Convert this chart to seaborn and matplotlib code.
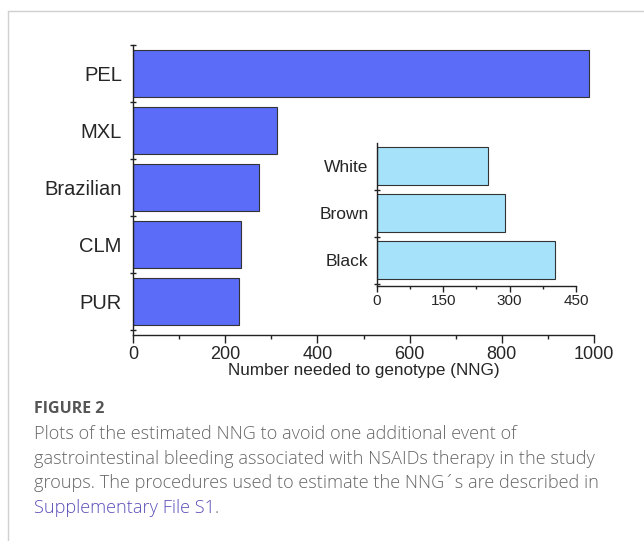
import numpy as np
import pandas as pd
import seaborn as sns
import matplotlib.pyplot as plt
from matplotlib.lines import Line2D
from matplotlib.ticker import FixedLocator

# main panel: NNG per population
groups = ['PEL', 'MXL', 'Brazilian', 'CLM', 'PUR']
nng = [988, 312, 273, 234, 230]

# inset: NNG per self-reported colour (Brazilian cohort)
colour_groups = ['White', 'Brown', 'Black']
colour_nng = [250, 289, 402]

sns.set_theme(style='white')
plt.rcParams['font.family'] = ['Liberation Sans', 'DejaVu Sans']

main_df = pd.DataFrame({'group': groups, 'nng': nng})
inset_df = pd.DataFrame({'group': colour_groups, 'nng': colour_nng})

fig = plt.figure(figsize=(6.44, 5.41), dpi=100)

# main axes
ax = fig.add_axes([0.2065, 0.3808, 0.716, 0.536])
sns.barplot(data=main_df, x='nng', y='group', orient='h', color='#5a6cf8',
            saturation=1, width=0.82, edgecolor='#333333', linewidth=0.8, ax=ax)
ax.set_xlim(0, 1000)
ax.set_ylim(4.59, -0.5)
ax.set_xticks([0, 200, 400, 600, 800, 1000])
ax.xaxis.set_minor_locator(FixedLocator([100, 300, 500, 700, 900]))
ax.yaxis.set_minor_locator(FixedLocator(np.arange(-0.5, 5, 1.0)))
ax.tick_params(axis='x', which='major', direction='out', length=6, width=1,
               color='#222222', labelsize=13, pad=2, bottom=True)
ax.tick_params(axis='x', which='minor', direction='out', length=3, width=1,
               color='#222222', bottom=True)
ax.tick_params(axis='y', which='major', length=0, labelsize=14.5, pad=8)
ax.tick_params(axis='y', which='minor', direction='inout', length=5, width=1,
               color='#222222', left=True)
ax.set_xlabel('Number needed to genotype (NNG)', fontsize=12.3, labelpad=0)
ax.set_ylabel('')
for side in ['top', 'right']:
    ax.spines[side].set_visible(False)
for side in ['left', 'bottom']:
    ax.spines[side].set_color('#222222')
    ax.spines[side].set_linewidth(1)

# inset axes
ins = fig.add_axes([0.5854, 0.4713, 0.309, 0.2644])
sns.barplot(data=inset_df, x='nng', y='group', orient='h', color='#a6e3fb',
            saturation=1, width=0.8, edgecolor='#333333', linewidth=0.8, ax=ins)
ins.set_xlim(0, 450)
ins.set_ylim(2.55, -0.49)
ins.set_xticks([0, 150, 300, 450])
ins.xaxis.set_minor_locator(FixedLocator([75, 225, 375]))
ins.yaxis.set_minor_locator(FixedLocator(np.arange(-0.5, 3, 1.0)))
ins.tick_params(axis='x', which='major', direction='out', length=4, width=1,
                color='#222222', labelsize=11, pad=2, bottom=True)
ins.tick_params(axis='x', which='minor', direction='out', length=2, width=1,
                color='#222222', bottom=True)
ins.tick_params(axis='y', which='major', length=0, labelsize=12.5, pad=6)
ins.tick_params(axis='y', which='minor', direction='inout', length=4, width=1,
                color='#222222', left=True)
ins.set_xlabel('')
ins.set_ylabel('')
ins.patch.set_alpha(0)
for side in ['top', 'right']:
    ins.spines[side].set_visible(False)
for side in ['left', 'bottom']:
    ins.spines[side].set_color('#222222')
    ins.spines[side].set_linewidth(1)

# card border
fig.add_artist(Line2D([8 / 644, 1], [1 - 11 / 541, 1 - 11 / 541],
                      transform=fig.transFigure, color='#d0d0d0', lw=1))
fig.add_artist(Line2D([8 / 644, 8 / 644], [0, 1 - 11 / 541],
                      transform=fig.transFigure, color='#d0d0d0', lw=1))

# caption
cap_font = ['Open Sans', 'DejaVu Sans']
x0 = 34 / 644
fig.text(x0, 1 - 409 / 541, 'FIGURE 2', fontsize=11.5, fontweight='bold',
         color='#555555', va='center', family=cap_font)
lines = [
    'Plots of the estimated NNG to avoid one additional event of',
    'gastrointestinal bleeding associated with NSAIDs therapy in the study',
    'groups. The procedures used to estimate the NNG\u00b4s are described in',
]
for i, line in enumerate(lines):
    fig.text(x0, 1 - (434 + 24.7 * i) / 541, line, fontsize=13.1, color='#666666',
             va='center', family=cap_font, fontweight='light')
link = fig.text(x0, 1 - 508 / 541, 'Supplementary File S1', fontsize=13.1,
                color='#5b4fb8', va='center', family=cap_font, fontweight='light')
plt.annotate('.', xy=(1, 0), xycoords=link, fontsize=13.1, color='#666666',
             va='bottom', family=cap_font, fontweight='light')

fig.savefig('out.png', dpi=100)
